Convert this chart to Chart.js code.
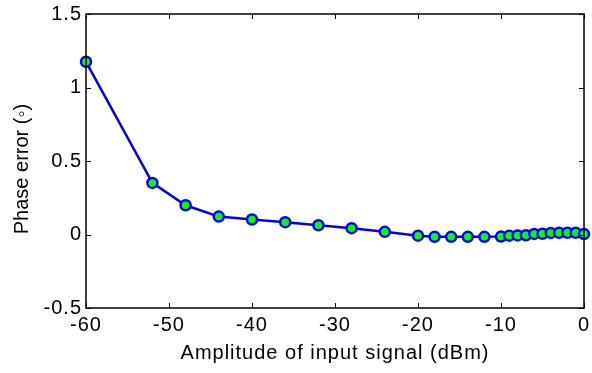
<!DOCTYPE html>
<html>
<head>
<meta charset="utf-8">
<script src="https://cdn.jsdelivr.net/npm/chart.js@4.4.0/dist/chart.umd.min.js"></script>
<style>
  html, body { margin: 0; padding: 0; background: #fff; }
  #wrap { width: 592px; height: 373px; }
</style>
</head>
<body>
<div id="wrap"><canvas id="c" width="592" height="373"></canvas></div>
<script>
// ==== Data ====
const amplitude = [-60, -52, -48, -44, -40, -36, -32, -28, -24, -20, -18, -16, -14, -12, -10,
                   -9, -8, -7, -6, -5, -4, -3, -2, -1, 0];
const phaseError = [1.175, 0.351, 0.199, 0.122, 0.102, 0.084, 0.063, 0.043, 0.018, -0.008, -0.016, -0.016, -0.016, -0.016, -0.014,
                    -0.008, -0.006, -0.005, 0.004, 0.005, 0.011, 0.012, 0.012, 0.012, 0.003];
const xTicks = [-60, -50, -40, -30, -20, -10, 0];
const yTicks = [-0.5, 0, 0.5, 1, 1.5];
const yTitle = 'Phase error (\u25E6)';

const FONT = 'Liberation Sans, Arial, sans-serif';
const SPACING = '1px'; // matlab export looks a bit stretched sideways

// wider lettering for horizontal text
const letterSpace = {
    id: 'letterSpace',
    beforeLayout(chart) { chart.ctx.letterSpacing = SPACING; },
    beforeDraw(chart) { chart.ctx.letterSpacing = SPACING; }
};

// inward ticks on all four sides + black box, and the rotated y title
const boxTicks = {
    id: 'boxTicks',
    afterDraw(chart) {
        const { ctx, chartArea: a, scales } = chart;
        ctx.save();
        ctx.strokeStyle = '#000';
        ctx.lineWidth = 1;
        ctx.beginPath();
        xTicks.forEach(v => {
            const px = Math.round(scales.x.getPixelForValue(v)) + 0.5;
            ctx.moveTo(px, a.bottom); ctx.lineTo(px, a.bottom - 5);
            ctx.moveTo(px, a.top); ctx.lineTo(px, a.top + 5);
        });
        yTicks.forEach(v => {
            const py = Math.round(scales.y.getPixelForValue(v)) + 0.5;
            ctx.moveTo(a.left, py); ctx.lineTo(a.left + 5, py);
            ctx.moveTo(a.right, py); ctx.lineTo(a.right - 5, py);
        });
        ctx.stroke();
        ctx.lineWidth = 1.5;
        ctx.strokeRect(a.left, a.top, a.right - a.left, a.bottom - a.top);

        // y title, no extra spacing since it runs vertically
        ctx.letterSpacing = '0px';
        ctx.fillStyle = '#000';
        ctx.font = '20px ' + FONT;
        ctx.textAlign = 'center';
        ctx.textBaseline = 'middle';
        ctx.translate(22, (a.top + a.bottom) / 2 + 8);
        ctx.rotate(-Math.PI / 2);
        ctx.fillText(yTitle, 0, 0);
        ctx.restore();
    }
};

new Chart(document.getElementById('c').getContext('2d'), {
    type: 'line',
    data: {
        datasets: [{
            data: amplitude.map((x, i) => ({ x: x, y: phaseError[i] })),
            borderColor: '#0000ff',
            borderWidth: 2.5,
            pointBackgroundColor: '#00ff00',
            pointBorderColor: '#0000ff',
            pointBorderWidth: 2.5,
            pointRadius: 5,
            tension: 0,
            clip: false
        }]
    },
    options: {
        responsive: false,
        animation: false,
        layout: { padding: { top: 14, right: 8, left: 0, bottom: 0 } },
        plugins: { legend: { display: false }, tooltip: { enabled: false } },
        scales: {
            x: {
                type: 'linear', min: -60, max: 0,
                afterBuildTicks: s => { s.ticks = xTicks.map(v => ({ value: v })); },
                afterFit: s => { s.height = 65; s.paddingLeft = 0; s.paddingRight = 0; },
                grid: { display: false, drawTicks: false },
                border: { display: false },
                ticks: { color: '#000', font: { family: FONT, size: 20 }, padding: 5, maxRotation: 0 },
                title: { display: true, text: 'Amplitude of input signal (dBm)', color: '#000',
                         font: { family: FONT, size: 20 }, padding: { top: 0, bottom: 8 } }
            },
            y: {
                min: -0.5, max: 1.5,
                afterBuildTicks: s => { s.ticks = yTicks.map(v => ({ value: v })); },
                afterFit: s => { s.width = 86; s.paddingTop = 0; s.paddingBottom = 0; },
                grid: { display: false, drawTicks: false },
                border: { display: false },
                ticks: { color: '#000', font: { family: FONT, size: 20 }, padding: 4,
                         callback: v => String(v) }
            }
        }
    },
    plugins: [letterSpace, boxTicks]
});
</script>
</body>
</html>
